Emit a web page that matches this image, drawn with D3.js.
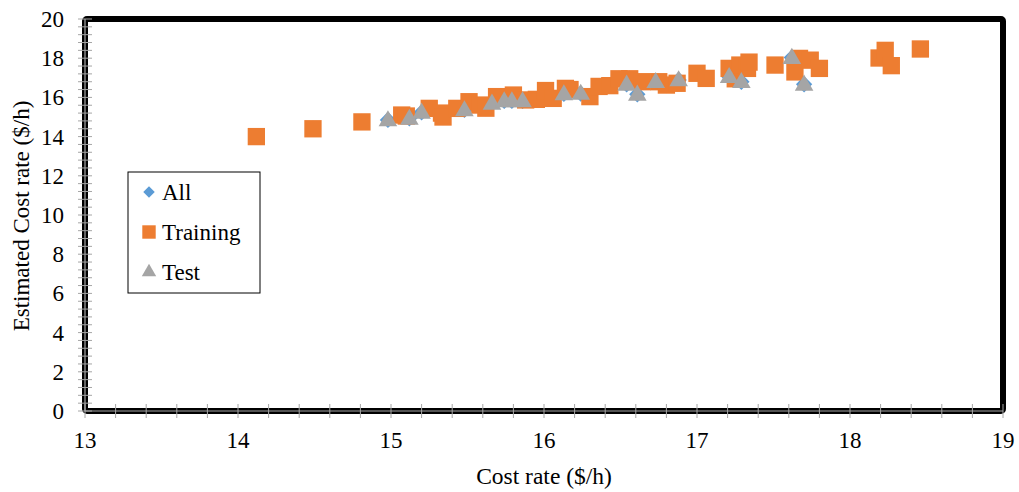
<html>
<head>
  <script src="https://d3js.org/d3.v7.min.js"></script>
  <style>
    body { margin: 0; background: white; }
    text { font-family: "Liberation Serif", "Times New Roman", serif; fill: black; }
  </style>
</head>
<body>
  <svg id="chart" width="1019" height="492"></svg>
  <script>
    // data
    const trainX = [14.12, 14.49, 14.81, 15.07, 15.10, 15.25, 15.33, 15.34, 15.43, 15.51, 15.58, 15.62, 15.69, 15.80, 15.88, 15.95,
      16.01, 16.06, 16.14, 16.17, 16.30, 16.36, 16.43, 16.49, 16.56, 16.64, 16.75, 16.80, 16.87, 17.00, 17.06, 17.21, 17.25, 17.28,
      17.33, 17.34, 17.51, 17.64, 17.67, 17.74, 17.80, 18.19, 18.23, 18.27, 18.46];
    const trainY = [14.0, 14.4, 14.75, 15.1, 15.05, 15.44, 15.2, 15.0, 15.44, 15.78, 15.61, 15.45, 16.04, 16.12, 15.87, 15.9,
      16.35, 15.95, 16.46, 16.4, 16.04, 16.56, 16.6, 16.95, 16.95, 16.8, 16.8, 16.63, 16.72, 17.23, 16.97, 17.48, 16.95, 17.65,
      17.48, 17.8, 17.65, 17.3, 17.99, 17.9, 17.48, 18.01, 18.4, 17.62, 18.47];
    const testX = [14.98, 15.12, 15.20, 15.48, 15.66, 15.74, 15.79, 15.86, 16.13, 16.24, 16.54, 16.61, 16.73, 16.88, 17.21, 17.29, 17.62, 17.70];
    const testY = [14.85, 14.93, 15.24, 15.36, 15.70, 15.82, 15.82, 15.82, 16.18, 16.2, 16.67, 16.16, 16.80, 16.89, 17.06, 16.8, 18.03, 16.67];
    const xTicks = [13, 14, 15, 16, 17, 18, 19];
    const yTicks = [0, 2, 4, 6, 8, 10, 12, 14, 16, 18, 20];
    const seriesNames = ["All", "Training", "Test"];
    const seriesColors = ["#5b9bd5", "#ed7d31", "#a5a5a5"];

    const svg = d3.select("#chart");
    const margins = { left: 85, right: 16, top: 19, bottom: 81 };
    const w = +svg.attr("width"), h = +svg.attr("height");
    const chartWidth = w - margins.left - margins.right;
    const chartHeight = h - margins.top - margins.bottom;

    const xScale = d3.scaleLinear([13, 19], [margins.left, margins.left + chartWidth]);
    const yScale = d3.scaleLinear([0, 20], [margins.top + chartHeight, margins.top]);

    // thick black frame
    svg.append("rect")
      .attr("x", margins.left).attr("y", margins.top)
      .attr("width", chartWidth).attr("height", chartHeight)
      .attr("rx", 2)
      .attr("fill", "none").attr("stroke", "black").attr("stroke-width", 6);

    // thin grey axis lines over the frame + minor / major ticks crossing it
    const grey = "#a6a6a6";
    svg.append("line")
      .attr("x1", margins.left).attr("x2", margins.left + chartWidth)
      .attr("y1", yScale(0)).attr("y2", yScale(0))
      .attr("stroke", grey).attr("stroke-width", 1.2);
    svg.append("line")
      .attr("x1", xScale(13)).attr("x2", xScale(13))
      .attr("y1", yScale(0)).attr("y2", yScale(20))
      .attr("stroke", grey).attr("stroke-width", 1.2);

    const xMinor = d3.range(13, 19.0001, 0.2);
    svg.append("g").selectAll("line").data(xMinor).join("line")
      .attr("x1", d => xScale(d)).attr("x2", d => xScale(d))
      .attr("y1", yScale(0) - 7).attr("y2", yScale(0) + 7)
      .attr("stroke", grey).attr("stroke-width", 1);
    const yMinor = d3.range(0, 20.0001, 0.4);
    svg.append("g").selectAll("line").data(yMinor).join("line")
      .attr("x1", xScale(13) - 7).attr("x2", xScale(13) + 7)
      .attr("y1", d => yScale(d)).attr("y2", d => yScale(d))
      .attr("stroke", grey).attr("stroke-width", 1);

    // tick labels
    svg.append("g").selectAll("text").data(xTicks).join("text")
      .attr("x", d => xScale(d)).attr("y", yScale(0) + 37)
      .attr("text-anchor", "middle").style("font-size", "23px")
      .text(d => d);
    svg.append("g").selectAll("text").data(yTicks).join("text")
      .attr("x", margins.left - 21).attr("y", d => yScale(d) + 8)
      .attr("text-anchor", "end").style("font-size", "23px")
      .text(d => d);

    // axis titles
    svg.append("text")
      .attr("text-anchor", "middle").style("font-size", "23.5px")
      .attr("transform", `translate(${margins.left + chartWidth / 2}, ${h - 8})`)
      .text("Cost rate ($/h)");
    svg.append("text")
      .attr("text-anchor", "middle").style("font-size", "23px")
      .attr("transform", `translate(29, ${margins.top + chartHeight / 2 + 1}) rotate(-90)`)
      .text("Estimated Cost rate ($/h)");

    // markers
    const diamond = d3.symbol(d3.symbolDiamond2, 170);
    const square = d3.symbol(d3.symbolSquare, 300);
    const triangle = d3.symbol(d3.symbolTriangle, 150);

    const allX = trainX.concat(testX), allY = trainY.concat(testY);
    svg.append("g").selectAll("path").data(allX).join("path")
      .attr("d", diamond)
      .attr("transform", (d, i) => `translate(${xScale(d)},${yScale(allY[i])})`)
      .attr("fill", seriesColors[0]);
    svg.append("g").selectAll("path").data(trainX).join("path")
      .attr("d", square)
      .attr("transform", (d, i) => `translate(${xScale(d)},${yScale(trainY[i])})`)
      .attr("fill", seriesColors[1]);
    svg.append("g").selectAll("path").data(testX).join("path")
      .attr("d", triangle)
      .attr("transform", (d, i) => `translate(${xScale(d)},${yScale(testY[i]) + 1})`)
      .attr("fill", seriesColors[2]);

    // legend
    const legendG = svg.append("g").attr("transform", "translate(128, 172)");
    legendG.append("rect")
      .attr("width", 132).attr("height", 121)
      .attr("fill", "white").attr("stroke", "black").attr("stroke-width", 1);
    const legendShapes = [
      d3.symbol(d3.symbolDiamond2, 85),
      d3.symbol(d3.symbolSquare, 180),
      d3.symbol(d3.symbolTriangle, 90)
    ];
    seriesNames.forEach((name, i) => {
      legendG.append("path")
        .attr("d", legendShapes[i])
        .attr("transform", `translate(21, ${20 + i * 40})`)
        .attr("fill", seriesColors[i]);
      legendG.append("text")
        .attr("x", 34).attr("y", 28 + i * 40)
        .style("font-size", "23px")
        .text(name);
    });
  </script>
</body>
</html>
